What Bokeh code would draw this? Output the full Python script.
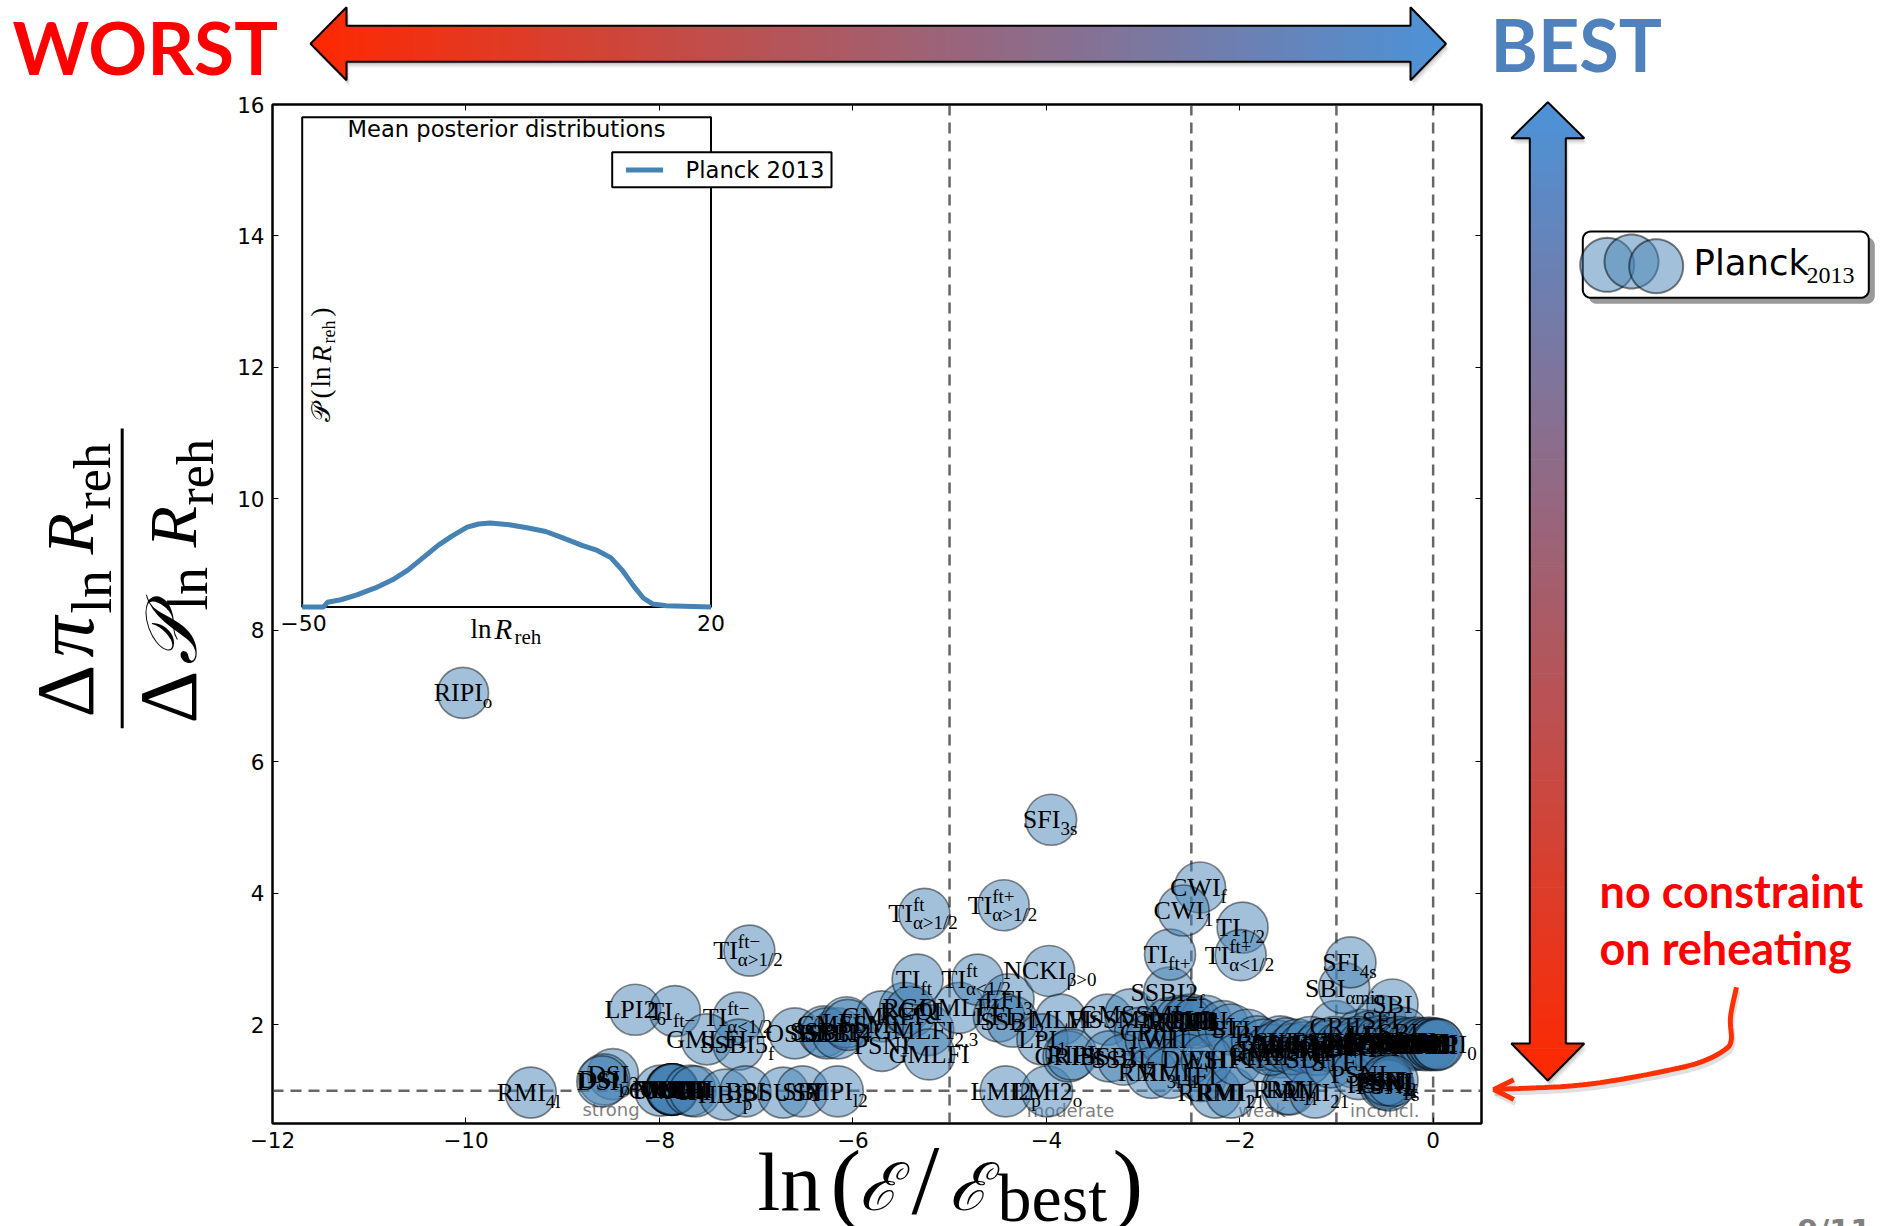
import math
from bokeh.embed import file_html
from bokeh.resources import INLINE
from bokeh.layouts import column
from bokeh.plotting import figure
from bokeh.core.properties import value
from bokeh.models import (ColumnDataSource, FixedTicker, LinearAxis, Range1d)

# ---------------- data ----------------
model_labels = [
    "RIPI|o", "RMI|4l", "DSI|2", "DSI|o", "DSI|l", "LPI2|6", "TI|ft−", "TI|α<1/2|ft−", "GMLFI", "SSBI5|f",
    "TI|α>1/2|ft−", "CNAI", "VFMI", "WRI", "CNBI", "CNCI", "CNDI", "KKLTI", "NMLFI", "HBI",
    "AI", "IPI", "HBI|p", "BSI", "BSUSY", "SBI", "RIPI|l2", "OSBI", "SSBI1", "SSBI3",
    "SSBI4", "LFI|2", "GMSSMI", "GMLFI", "PSNI", "RGI", "RCQI", "GMLFI|2,3", "GMLFI", "QMLFI",
    "TI|ft", "TI|α<1/2|ft", "TI|α>1/2|ft+", "TI|α>1/2|ft", "LFI|3", "LFI|2", "SSBI|2", "NCKI|β>0", "MLFI", "LPI|1",
    "SFI|3s", "LMI2|p", "LMI2|o", "GRIPI", "RIPI", "MSSMI", "GMSSMI", "CPI", "SSBI", "SSBI|5",
    "SSBI2|f", "MHI", "RCMI", "PLI", "HBI", "RCHI", "LFI", "TWI", "VHI", "RMI|3l",
    "RMI|1", "IFI", "RRMI|1", "RMI|21", "LI", "STI", "BI", "DWI", "ESI", "HF1I",
    "KMII", "GMSSMI", "CSI", "NI", "RMI|1l", "RMI", "RMI|21", "CRII", "LI", "SFI",
    "SBI", "SBI|αmin", "SFI|4s", "TI|ft+", "TI|1/2", "TI|α<1/2|ft+", "CWI|f", "CWI|1", "LFI|1", "SBI|s",
    "HI", "RCHI", "LFI", "MLFI", "RCMI", "RCQI", "NI", "ESI", "PLI", "KMII",
    "HF1I", "CWI", "LI", "RPI", "DWI", "MHI", "RGI", "MSSMI", "RIPI", "AI",
    "CNAI", "SBI", "SSBI", "KKLTI", "BI", "TMI", "BEI", "NCKI", "CSI", "OI",
    "CNBI", "IMI", "LPI", "RMI", "VHI", "DSI", "GRIPI|0",
    "SDI", "STI", "FI", "PSNI", "PSNI", "PSNI|f", "PSNI|ft", "PSNI|s", "SBI|2", "LFI|2",
]
model_x = [
    -10.03, -9.33, -8.48, -8.57, -8.59, -8.25, -7.84, -7.18, -7.51, -7.18,
    -7.07, -7.99, -7.87, -7.87, -7.87, -7.88, -7.86, -7.87, -7.86, -7.87,
    -7.68, -7.63, -7.32, -7.11, -6.72, -6.52, -6.155, -6.60, -6.30, -6.27,
    -6.155, -6.065, -6.05, -5.70, -5.70, -5.46, -5.40, -5.22, -5.21, -4.90,
    -5.33, -4.71, -4.44, -5.26, -4.39, -4.49, -4.35, -3.97, -3.85, -4.04,
    -3.95, -4.42, -3.99, -3.77, -3.74, -3.37, -3.13, -3.03, -3.35, -3.20,
    -2.73, -2.72, -2.61, -2.51, -2.35, -2.55, -2.45, -2.92, -2.78, -2.91,
    -2.72, -2.40, -2.25, -2.09, -2.17, -2.09, -1.92, -2.54, -2.34, -2.03,
    -1.79, -1.58, -1.82, -1.58, -1.51, -1.48, -1.22, -1.01, -0.75, -0.545,
    -0.42, -0.92, -0.855, -2.72, -1.97, -1.99, -2.41, -2.58, -0.65, -0.31,
    -1.75, -1.68, -1.60, -1.52, -1.45, -1.40, -1.33, -1.27, -1.20, -1.15,
    -1.08, -1.02, -0.96, -0.90, -0.85, -0.78, -0.72, -0.66, -0.60, -0.55,
    -0.50, -0.44, -0.40, -0.35, -0.30, -0.26, -0.22, -0.18, -0.14, -0.10,
    -0.07, -0.04, -0.02, 0.00, 0.02, 0.04, 0.05,
    -1.31, -1.06, -0.82, -0.77, -0.49, -0.47, -0.50, -0.46, -0.48, -0.42,
]
model_y = [
    7.05, 0.97, 1.25, 1.17, 1.14, 2.23, 2.21, 2.11, 1.78, 1.70,
    3.13, 1.00, 1.02, 1.02, 1.01, 1.02, 1.02, 1.01, 1.02, 1.02,
    1.00, 0.99, 0.94, 0.99, 0.97, 0.99, 0.99, 1.87, 1.90, 1.87,
    1.87, 2.04, 2.00, 2.13, 1.68, 2.26, 2.20, 1.92, 1.55, 2.26,
    2.69, 2.69, 3.82, 3.69, 2.39, 2.13, 2.05, 2.82, 2.08, 1.78,
    5.12, 0.99, 0.99, 1.52, 1.55, 2.08, 2.16, 1.88, 1.52, 1.47,
    2.49, 2.03, 2.06, 2.08, 2.06, 2.05, 2.03, 1.78, 1.78, 1.27,
    1.27, 1.22, 0.97, 0.97, 1.98, 1.93, 1.85, 1.47, 1.47, 1.47,
    1.52, 1.58, 1.75, 1.75, 1.02, 1.02, 0.97, 1.98, 1.85, 2.06,
    2.31, 2.56, 2.95, 3.07, 3.48, 3.06, 4.09, 3.74, 1.83, 1.88,
    1.70, 1.62, 1.68, 1.72, 1.63, 1.70, 1.66, 1.74, 1.62, 1.70,
    1.68, 1.74, 1.66, 1.71, 1.64, 1.74, 1.68, 1.72, 1.66, 1.75,
    1.70, 1.72, 1.68, 1.74, 1.70, 1.72, 1.69, 1.73, 1.70, 1.72,
    1.69, 1.73, 1.70, 1.72, 1.69, 1.71, 1.70,
    1.47, 1.43, 1.43, 1.25, 1.14, 1.12, 1.10, 1.08, 1.16, 1.15,
]
class_names = ["strong", "moderate", "weak", "inconcl."]
class_x = [-8.5, -3.75, -1.77, -0.5]
class_y = [0.71, 0.70, 0.70, 0.70]
evidence_limits = [-5, -2.5, -1, 0]
reference_ratio = 1
x_ticks = [-12, -10, -8, -6, -4, -2, 0]
y_ticks = [2, 4, 6, 8, 10, 12, 14, 16]
inset_x = [-50, -46.33, -45.67, -43.38, -40.76, -37.48, -34.53, -31.91, -29.29, -26.67, -24.37,
           -21.75, -19.78, -17.82, -14.54, -11.26, -8.31, -5.37, -2.09, 0.53, 2.83, 4.79,
           6.76, 8.40, 10.04, 12.33, 20]
inset_y = [0.0, 0.0, 0.055, 0.085, 0.14, 0.226, 0.323, 0.438, 0.587, 0.736, 0.843,
           0.949, 0.987, 1.0, 0.979, 0.94, 0.898, 0.821, 0.732, 0.672, 0.587, 0.438,
           0.247, 0.106, 0.034, 0.013, 0.0]
SERIF = "Liberation Serif"
SANS = "DejaVu Sans"
BOLD = "Lato"

# ---------------- figures ----------------
FL, FT, FW, FH, W, H = 272, 104, 1209, 1019, 1885, 1226
bg = figure(frame_width=W, frame_height=H, x_range=(0, W), y_range=(H, 0), x_axis_type=None,
            y_axis_type=None, min_border=0, output_backend="svg", toolbar_location=None)
bg.frame_align = False
bg.grid.visible = False
bg.outline_line_color = None

p = figure(frame_width=FW, frame_height=FH, x_range=(-12, 0.5), y_range=(0.5, 16),
           min_border_left=FL, min_border_right=W - FL - FW, min_border_top=FT,
           min_border_bottom=H - FT - FH, output_backend="svg", toolbar_location=None,
           background_fill_color=None, border_fill_color=None)
p.frame_align = False
p.margin = (-H, 0, 0, 0)
p.grid.visible = False
p.outline_line_color = "black"
p.outline_line_width = 2
left_px, right_px, top_px, bot_px = FL, FL + FW, FT, FT + FH
p.extra_x_ranges["page"] = Range1d(left_px, right_px)
p.extra_y_ranges["page"] = Range1d(bot_px, top_px)
# inset scales
ix0, ix1, iy0, iy1 = 301.7, 710.5, 116.8, 606.4
iymax = 5.83
sx = 70 / (ix1 - ix0)
sy = iymax / (iy1 - iy0)
p.extra_x_ranges["inset"] = Range1d(-50 + (left_px - ix0) * sx, -50 + (right_px - ix0) * sx)
p.extra_y_ranges["inset"] = Range1d((iy1 - bot_px) * sy, (iy1 - top_px) * sy)


def style_axis(ax, ticks, labels=True):
    ax.ticker = FixedTicker(ticks=ticks, minor_ticks=[])
    ax.major_tick_in = 6
    ax.major_tick_out = 0
    ax.minor_tick_in = 0
    ax.minor_tick_out = 0
    ax.major_tick_line_color = "black"
    ax.major_tick_line_width = 1
    ax.axis_line_color = "black"
    ax.axis_line_width = 2
    ax.major_label_text_font = SANS
    ax.major_label_text_font_size = "21.5px"
    ax.major_label_text_color = "black" if labels else None
    ax.major_label_standoff = 8
    ax.major_label_overrides = {t: str(t).replace("-", "−") for t in ticks}


style_axis(p.xaxis[0], x_ticks)
style_axis(p.yaxis[0], y_ticks)
top_ax = LinearAxis()
right_ax = LinearAxis()
style_axis(top_ax, x_ticks, False)
style_axis(right_ax, y_ticks, False)
p.add_layout(top_ax, "above")
p.add_layout(right_ax, "right")

# ---------------- main plot ----------------
p.segment(x0=evidence_limits, y0=[0.5] * 4, x1=evidence_limits, y1=[16] * 4,
          line_color="#666666", line_width=2.5, line_dash="11 7")
p.segment(x0=[-12], y0=[reference_ratio], x1=[0.5], y1=[reference_ratio],
          line_color="#666666", line_width=2.5, line_dash="11 7")
p.text(x=class_x, y=class_y, text=class_names, text_font=value(SANS), text_font_size="18px",
       text_color="#808080", text_align="center", text_baseline="middle")
p.scatter(x=model_x, y=model_y, size=51, marker="circle", fill_color="#4682B4", fill_alpha=0.5,
          line_color="#000000", line_alpha=0.45, line_width=1.7)

WIDTHS = {"A": .72, "B": .667, "C": .667, "D": .722, "E": .611, "F": .556, "G": .722, "H": .722,
          "I": .333, "K": .722, "L": .611, "M": .889, "N": .722, "O": .722, "P": .556, "Q": .722,
          "R": .667, "S": .556, "T": .611, "U": .722, "V": .722, "W": .944, "Y": .722}


def twidth(s, size):
    return sum(WIDTHS.get(c, .5) for c in s) * size


main_size, small_size = 26, 19
rows = {"m": ([], [], [], []), "b": ([], [], [], []), "p": ([], [], [], [])}
for lab, xv, yv in zip(model_labels, model_x, model_y):
    parts = lab.split("|") + ["", ""]
    name, sub, sup = parts[:3]
    wm = twidth(name, main_size)
    ws = max(twidth(sub, small_size), twidth(sup, small_size))
    start = -(wm + ws) / 2
    for key, t, off in (("m", name, start), ("b", sub, start + wm), ("p", sup, start + wm)):
        if t:
            r = rows[key]
            r[0].append(xv); r[1].append(yv); r[2].append(t); r[3].append(off)
for key, size, dy in (("m", main_size, 0), ("b", small_size, 9), ("p", small_size, -9)):
    r = rows[key]
    src = ColumnDataSource(dict(x=r[0], y=r[1], t=r[2], o=r[3]))
    p.text(x="x", y="y", text="t", x_offset="o", y_offset=dy, source=src, text_font=value(SERIF),
           text_font_size=f"{size}px", text_color="black", text_align="left",
           text_baseline="middle")


# ---------------- helpers in page pixels ----------------
def poly(xs, ys, fill=None, fa=1.0, line=None, la=1.0, lw=0):
    bg.patch(x=list(xs), y=list(ys), fill_color=fill, fill_alpha=fa, line_color=line, line_alpha=la,
             line_width=lw)


def txt(t, x, y, size, font=SANS, color="black", align="left", style="normal", angle=0, fig=None):
    """y (x when rotated) is the text's baseline."""
    if angle:
        x -= .3 * size
    else:
        y -= .3 * size
    target = fig if fig is not None else bg
    kw = dict(x_range_name="page", y_range_name="page") if fig is not None else {}
    target.text(x=[x], y=[y], text=[t], text_font=value(font), text_font_size=f"{size}px",
                text_color=color, text_align=align, text_baseline="middle",
                text_font_style=style, angle=angle, angle_units="deg", **kw)


RED, BLUE = (255, 40, 0), (76, 147, 216)


def mix(t):
    t = min(max(t, 0), 1)
    return "#%02x%02x%02x" % tuple(round(RED[i] + (BLUE[i] - RED[i]) * t) for i in range(3))


def arrow(a0, a1, h0, h1, c, hw_head, hw_shaft, horizontal, flip):
    segs = [(a0, h0, 0, hw_head, 8), (h0, h1, hw_shaft, hw_shaft, 110), (h1, a1, hw_head, 0, 8)]
    outline_a = [a0, h0, h0, h1, h1, a1, h1, h1, h0, h0]
    outline_b = [0, hw_head, hw_shaft, hw_shaft, hw_head, 0, -hw_head, -hw_shaft, -hw_shaft, -hw_head]

    def to_xy(al, bl):
        return (al, [c + b for b in bl]) if horizontal else ([c + b for b in bl], al)

    ox, oy = to_xy(outline_a, outline_b)
    for d, alpha in ((6, .06), (4, .09), (2, .12)):
        poly([v + d * .5 for v in ox], [v + d for v in oy], fill="#000000", fa=alpha)
    for s0, s1, w0, w1, n in segs:
        for i in range(n):
            u0, u1 = i / n, (i + 1) / n
            b0, b1 = s0 + (s1 - s0) * u0, s0 + (s1 - s0) * u1
            e0, e1 = w0 + (w1 - w0) * u0, w0 + (w1 - w0) * u1
            t = ((b0 + b1) / 2 - a0) / (a1 - a0)
            sx_, sy_ = to_xy([b0, b1 + .7, b1 + .7, b0], [-e0, -e1, e1, e0])
            poly(sx_, sy_, fill=mix(1 - t if flip else t))
    poly(ox, oy, fill=None, line="black", lw=2)


def circle_poly(cx, cy, r):
    a = [2 * math.pi * i / 72 for i in range(72)]
    return [cx + r * math.cos(t) for t in a], [cy + r * math.sin(t) for t in a]


def rounded(x0, y0, x1, y1, r):
    xs, ys = [], []
    for cx, cy, st in ((x1 - r, y0 + r, -90), (x1 - r, y1 - r, 0), (x0 + r, y1 - r, 90), (x0 + r, y0 + r, 180)):
        for k in range(9):
            t = math.radians(st + k * 90 / 8)
            xs.append(cx + r * math.cos(t)); ys.append(cy + r * math.sin(t))
    return xs, ys


def catmull(pts, n=10):
    out = []
    P = [pts[0]] + pts + [pts[-1]]
    for i in range(1, len(P) - 2):
        for k in range(n):
            t = k / n
            q = []
            for d in range(2):
                a, b, c, e = P[i - 1][d], P[i][d], P[i + 1][d], P[i + 2][d]
                q.append(.5 * (2 * b + (c - a) * t + (2 * a - 5 * b + 4 * c - e) * t * t + (3 * b - a - 3 * c + e) * t ** 3))
            out.append(q)
    out.append(pts[-1])
    return out


# ---------------- inset (drawn in the main frame through its own scales) ----------------
p.quad(left=[ix0], right=[ix1], top=[iy0], bottom=[iy1], x_range_name="page", y_range_name="page",
       fill_color="white", line_color="black", line_width=2)
p.line(x=inset_x, y=inset_y, x_range_name="inset", y_range_name="inset", line_color="#4682B4", line_width=5)
p.quad(left=[611.7], right=[831], top=[151.8], bottom=[186.8], x_range_name="page", y_range_name="page",
       fill_color="white", line_color="black", line_width=2)
p.line(x=[625.5, 662.6], y=[169.6, 169.6], x_range_name="page", y_range_name="page",
       line_color="#4682B4", line_width=5)
txt("Planck 2013", 685, 176, 22.7, fig=p)
txt("Mean posterior distributions", 506, 135, 22.6, align="center", fig=p)
txt("−50", 303, 629, 22, align="center", fig=p)
txt("20", 710.5, 629, 22, align="center", fig=p)
txt("ln", 470, 637, 27, font=SERIF, fig=p)
txt("R", 494, 637, 29, font=SERIF, style="italic", fig=p)
txt("reh", 514, 643, 21, font=SERIF, fig=p)
txt("𝒫", 329, 421, 26, font=SERIF, angle=90, fig=p)
txt("(", 329, 398, 27, font=SERIF, angle=90, fig=p)
txt("ln", 329, 387, 27, font=SERIF, angle=90, fig=p)
txt("R", 329, 362, 28, font=SERIF, style="italic", angle=90, fig=p)
txt("reh", 334, 343, 18, font=SERIF, angle=90, fig=p)
txt(")", 329, 316, 27, font=SERIF, angle=90, fig=p)

# ---------------- slide furniture ----------------
arrow(310, 1445.5, 346, 1410, 43.3, 36.5, 18, True, False)
arrow(101.7, 1080, 137.7, 1043, 1547.3, 36.5, 18, False, True)
txt("WORST", 12, 68, 73, font=BOLD, color="#ff0000", style="bold")
txt("BEST", 1490, 65, 72, font=BOLD, color="#4f81bd", style="bold")
txt("no constraint", 1599, 904, 45, font=BOLD, color="#ff0000", style="bold")
txt("on reheating", 1599, 961, 45, font=BOLD, color="#ff0000", style="bold")
bx, by = rounded(1582.3, 231, 1868.3, 297.3, 8)
poly([v + 6 for v in bx], [v + 6 for v in by], fill="#999999")
poly(bx, by, fill="white", line="black", lw=2)
for cx, cy in ((1606.7, 264.3), (1631, 261), (1655.7, 265.7)):
    xs, ys = circle_poly(cx, cy, 27)
    poly(xs, ys, fill="#4682B4", fa=.5, line="black", la=.5, lw=2)
txt("Planck", 1693, 273, 35.5)
txt("2013", 1806, 282, 24, font=SERIF)
# curved red arrow
curve = catmull([(1736, 986.7), (1730, 1016.7), (1730.7, 1040), (1723.3, 1050), (1700, 1061.7),
                 (1666.7, 1070), (1613.3, 1080), (1566.7, 1085.7), (1493.3, 1089)])
head = [(1513.3, 1079.3), (1493.3, 1089), (1513.3, 1099)]
for pts in (curve, head):
    bg.line(x=[a + 1.5 for a, _ in pts], y=[b + 4 for _, b in pts], line_color="#000000", line_alpha=.12, line_width=5)
for pts in (curve, head):
    bg.line(x=[a for a, _ in pts], y=[b for _, b in pts], line_color="#ff3000", line_width=5)
txt("9/11", 1797, 1239, 30, color="#808080", style="bold")
# axis titles
txt("ln", 757, 1207, 82, font=SERIF)
txt("(", 830, 1209, 92, font=SERIF)
txt("ℰ", 858, 1207, 66, font=SERIF, style="italic")
txt("/", 911, 1209, 100, font=SERIF)
txt("ℰ", 948, 1207, 66, font=SERIF, style="italic")
txt("best", 997, 1218, 68, font=SERIF)
txt(")", 1112, 1209, 92, font=SERIF)
poly([120.2, 123.2, 123.2, 120.2], [428, 428, 727.7, 727.7], fill="black")
txt("Δ", 90, 717, 82, font=SERIF, angle=90)
txt("π", 90, 657, 82, font=SERIF, style="italic", angle=90)
txt("ln", 108, 613, 56, font=SERIF, angle=90)
txt("R", 90, 554, 68, font=SERIF, style="italic", angle=90)
txt("reh", 108, 509, 52, font=SERIF, angle=90)
txt("Δ", 192.7, 723, 82, font=SERIF, angle=90)
txt("𝒫", 192.7, 664, 72, font=SERIF, style="italic", angle=90)
txt("ln", 204, 610, 56, font=SERIF, angle=90)
txt("R", 192.7, 547, 68, font=SERIF, style="italic", angle=90)
txt("reh", 211, 505, 52, font=SERIF, angle=90)

open("out.html", "w").write(file_html(column(bg, p), INLINE))
